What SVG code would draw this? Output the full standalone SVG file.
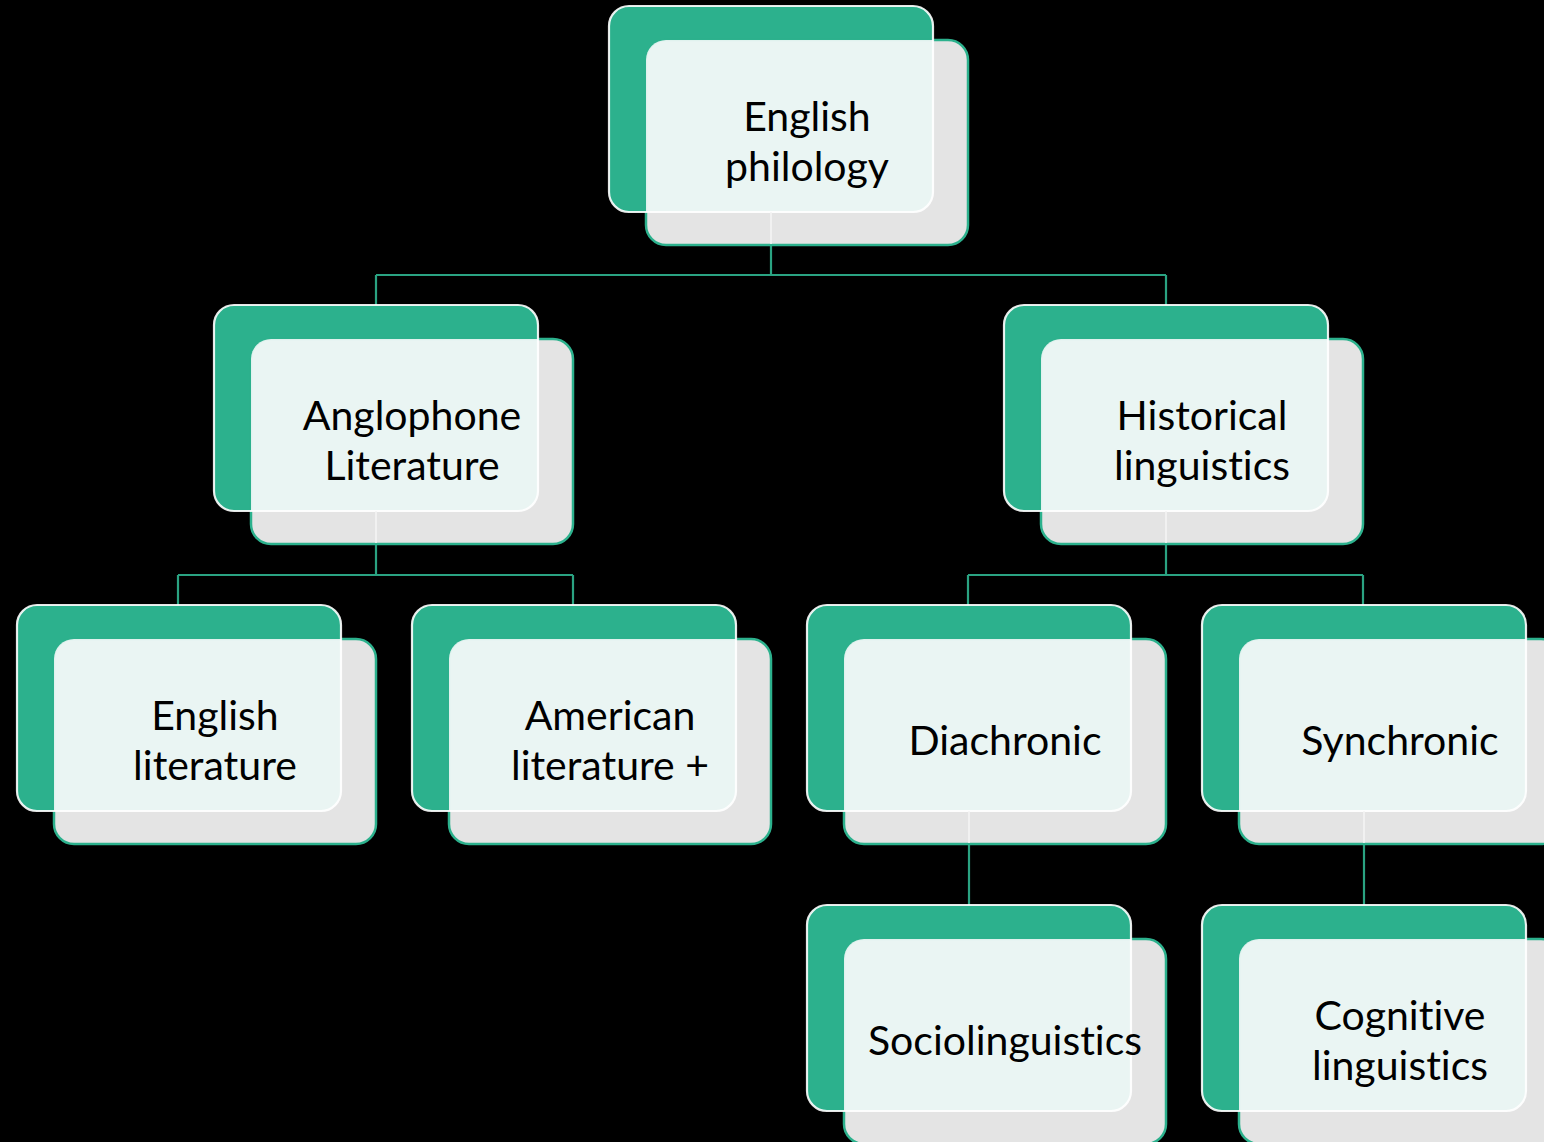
<svg xmlns="http://www.w3.org/2000/svg" width="1544" height="1142" viewBox="0 0 1544 1142">
<defs>
<style>
.bg{fill:#000}
.conn{fill:none;stroke:#2AA382;stroke-width:2.2}
.conn-faint{fill:none;stroke:#F4F4F4;stroke-width:2;opacity:0.8}
.back{fill:#2CB18D}
.gray{fill:#E4E4E4;stroke:#2CB18D;stroke-width:2.5}
.front{fill:#EAF6F3;opacity:0.95}
.outline{fill:none;stroke:#FFFFFF;stroke-width:2.2;opacity:0.9}
.lbl{font-family:Lato,"Open Sans",sans-serif;font-size:41px;fill:#000;text-anchor:middle;font-variant-ligatures:none}
</style>
<g id="shape">
<rect class="back" x="0" y="0" width="324" height="206" rx="20"/>
<rect class="gray" x="37" y="34" width="322" height="205" rx="20"/>
<path class="front" d="M37,54 A20,20 0 0 1 57,34 H324 V186 A20,20 0 0 1 304,206 H37 Z"/>
<rect class="outline" x="0" y="0" width="324" height="206" rx="20"/>
</g>
</defs>
<rect class="bg" x="0" y="0" width="1544" height="1142"/>
<g id="connectors">
<path class="conn" d="M771,212 V275 M376,275 H1166 M376,275 V305 M1166,275 V305"/>
<path class="conn" d="M376,511 V575 M178,575 H573 M178,575 V605 M573,575 V605"/>
<path class="conn" d="M1166,511 V575 M968,575 H1363 M968,575 V605 M1363,575 V605"/>
<path class="conn" d="M969,811 V905"/>
<path class="conn" d="M1364,811 V905"/>
</g>
<g id="n-english-philology" transform="translate(609,6)">
<use href="#shape"/>
<text class="lbl" x="198" y="125">English</text>
<text class="lbl" x="198" y="175">philology</text>
</g>
<g id="n-anglophone" transform="translate(214,305)">
<use href="#shape"/>
<text class="lbl" x="198" y="125">Anglophone</text>
<text class="lbl" x="198" y="175">Literature</text>
</g>
<g id="n-historical" transform="translate(1004,305)">
<use href="#shape"/>
<text class="lbl" x="198" y="125">Historical</text>
<text class="lbl" x="198" y="175">linguistics</text>
</g>
<g id="n-english-literature" transform="translate(17,605)">
<use href="#shape"/>
<text class="lbl" x="198" y="125">English</text>
<text class="lbl" x="198" y="175">literature</text>
</g>
<g id="n-american-literature" transform="translate(412,605)">
<use href="#shape"/>
<text class="lbl" x="198" y="125">American</text>
<text class="lbl" x="198" y="175">literature +</text>
</g>
<g id="n-diachronic" transform="translate(807,605)">
<use href="#shape"/>
<text class="lbl" x="198" y="150">Diachronic</text>
</g>
<g id="n-synchronic" transform="translate(1202,605)">
<use href="#shape"/>
<text class="lbl" x="198" y="150">Synchronic</text>
</g>
<g id="n-sociolinguistics" transform="translate(807,905)">
<use href="#shape"/>
<text class="lbl" x="198" y="150">Sociolinguistics</text>
</g>
<g id="n-cognitive" transform="translate(1202,905)">
<use href="#shape"/>
<text class="lbl" x="198" y="125">Cognitive</text>
<text class="lbl" x="198" y="175">linguistics</text>
</g>
<g id="connectors-through-nodes">
<path class="conn-faint" d="M771,212 V244 M376,511 V543 M1166,511 V543 M969,811 V843 M1364,811 V843"/>
</g>
</svg>
